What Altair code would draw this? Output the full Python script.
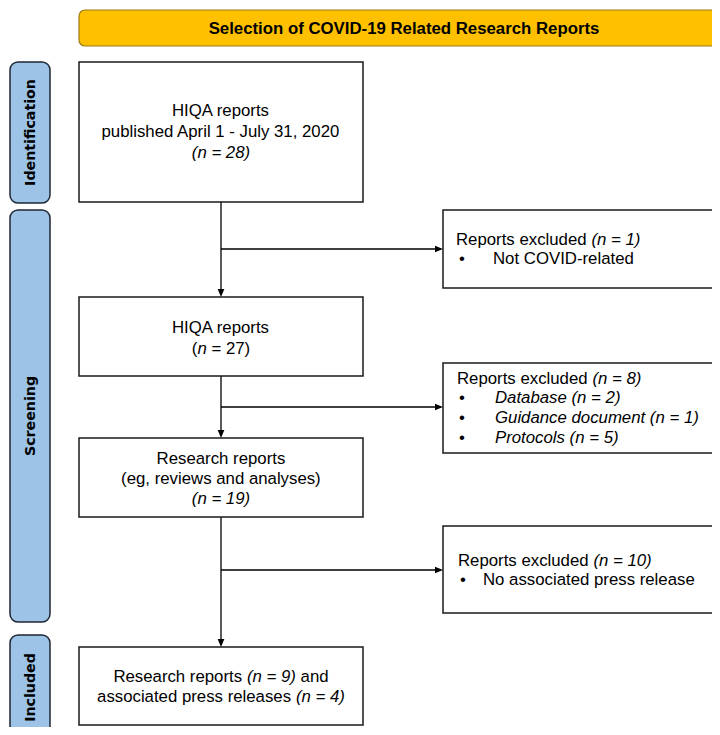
import altair as alt
import pandas as pd

# ---------------- canvas (pixel-like coordinate system) ----------------
W, H = 704, 719
X0, Y0 = 8, 8
FONT = "Liberation Sans"
LABEL_FONT = "DejaVu Sans"
FS = 16.8

# ---------------- content ----------------
title_text = ["Selection of COVID-19 Related Research Reports"]

stage_labels = ["Identification", "Screening", "Included"]
stage_top = [62, 210, 635]
stage_bottom = [203, 622, 740]

box_left = [79, 79, 79, 79, 443, 443, 443]
box_right = [363, 363, 363, 363, 735, 735, 735]
box_top = [62, 297, 438, 647, 210, 363, 526]
box_bottom = [202, 376, 517, 725, 288, 453, 613]

flow_x = [221, 221, 221]
flow_from = [202, 376, 517]
flow_to = [297, 438, 647]
branch_y = [249, 407, 570]
branch_to = [443, 443, 443]

# centred lines: (centre x, y, segments)
centred_lines = [
    (221, 111, [("HIQA reports", "normal")]),
    (221, 132, [("published April 1 - July 31, 2020", "normal")]),
    (221, 153, [("(n = 28)", "italic")]),
    (221, 328, [("HIQA reports", "normal")]),
    (221, 349, [("(", "normal"), ("n", "italic"), (" = 27)", "normal")]),
    (221, 459, [("Research reports", "normal")]),
    (221, 479, [("(eg, reviews and analyses)", "normal")]),
    (221, 499, [("(n = 19)", "italic")]),
    (221, 677, [("Research reports ", "normal"), ("(n = 9)", "italic"), (" and", "normal")]),
    (221, 697, [("associated press releases ", "normal"), ("(n = 4)", "italic")]),
]
# left aligned lines: (left x, y, segments)
left_lines = [
    (456, 240, [("Reports excluded ", "normal"), ("(n = 1)", "italic")]),
    (493, 259, [("Not COVID-related", "normal")]),
    (457, 379, [("Reports excluded ", "normal"), ("(n = 8)", "italic")]),
    (495, 398, [("Database (n = 2)", "italic")]),
    (495, 418, [("Guidance document (n = 1)", "italic")]),
    (495, 438, [("Protocols (n = 5)", "italic")]),
    (458, 561, [("Reports excluded ", "normal"), ("(n = 10)", "italic")]),
    (483, 580, [("No associated press release", "normal")]),
]
bullet_x = [459, 459, 459, 459, 460]
bullet_y = [259, 398, 418, 438, 580]

# Arial / Liberation Sans advance widths (per 1000 em) for layout of mixed-style lines
ADV = {" ": 278, "(": 333, ")": 333, ",": 278, "-": 333, ".": 278, "=": 584,
       "A": 667, "C": 722, "D": 722, "G": 778, "H": 722, "I": 278, "J": 500,
       "N": 722, "O": 778, "P": 667, "Q": 778, "R": 722, "V": 667}
for ch in "0123456789":
    ADV[ch] = 556
for ch, w in zip("abcdefghijklmnopqrstuvwxyz",
                 [556, 556, 500, 556, 556, 278, 556, 556, 222, 222, 500, 222, 833,
                  556, 556, 556, 556, 333, 500, 278, 556, 500, 722, 500, 500, 500]):
    ADV[ch] = w


def text_width(s):
    return sum(ADV.get(c, 556) for c in s) * FS / 1000.0


rows = []
for cx, y, segs in centred_lines:
    total = sum(text_width(t) for t, _ in segs)
    x = cx - total / 2
    for t, style in segs:
        lead = len(t) - len(t.lstrip(" "))
        rows.append({"x": x + text_width(" " * lead), "y": y, "t": t.strip(), "style": style})
        x += text_width(t)
for lx, y, segs in left_lines:
    x = lx
    for t, style in segs:
        lead = len(t) - len(t.lstrip(" "))
        rows.append({"x": x + text_width(" " * lead), "y": y, "t": t.strip(), "style": style})
        x += text_width(t)
for bx, by in zip(bullet_x, bullet_y):
    rows.append({"x": bx, "y": by, "t": "\u2022", "style": "normal"})
text_df = pd.DataFrame(rows)

# ---------------- scales ----------------
xs = alt.Scale(domain=[X0, X0 + W], nice=False, zero=False)
ys = alt.Scale(domain=[Y0, Y0 + H], nice=False, zero=False, reverse=True)


def X(f):
    return alt.X(f, type="quantitative", scale=xs, axis=None)


def Y(f):
    return alt.Y(f, type="quantitative", scale=ys, axis=None)


banner_df = pd.DataFrame({"x": [79], "x2": [740], "y": [10], "y2": [46]})
banner = alt.Chart(banner_df).mark_rect(
    fill="#FFC000", stroke="#9A7B12", strokeWidth=1.2, cornerRadius=6
).encode(x=X("x"), x2="x2", y=Y("y"), y2="y2")

title_df = pd.DataFrame({"x": [404], "y": [29], "t": title_text})
title = alt.Chart(title_df).mark_text(
    font=FONT, fontSize=FS, fontWeight="bold", color="#000000", align="center", baseline="middle"
).encode(x=X("x"), y=Y("y"), text="t:N")

stage_df = pd.DataFrame({
    "x": [10] * 3, "x2": [50] * 3, "y": stage_top, "y2": stage_bottom, "label": stage_labels,
    "cx": [30.5] * 3,
    "cy": [(a + b) / 2 for a, b in zip(stage_top, [203, 622, 740])],
})
stages = alt.Chart(stage_df).mark_rect(
    fill="#9DC3E6", stroke="#1E2733", strokeWidth=1.5, cornerRadius=8
).encode(x=X("x"), x2="x2", y=Y("y"), y2="y2")
stage_text = alt.Chart(stage_df).mark_text(
    font=LABEL_FONT, fontSize=14.2, fontWeight="bold", angle=270, color="#000000",
    align="center", baseline="middle"
).encode(x=X("cx"), y=Y("cy"), text="label:N")

box_df = pd.DataFrame({"x": box_left, "x2": box_right, "y": box_top, "y2": box_bottom})
boxes = alt.Chart(box_df).mark_rect(
    fill="#FFFFFF", stroke="#1A1A1A", strokeWidth=1.5
).encode(x=X("x"), x2="x2", y=Y("y"), y2="y2")

# connector lines
line_rows = []
for fx, a, b in zip(flow_x, flow_from, flow_to):
    line_rows.append({"x": fx, "x2": fx, "y": a, "y2": b - 6})
for fx, by, bt in zip(flow_x, branch_y, branch_to):
    line_rows.append({"x": fx, "x2": bt - 6, "y": by, "y2": by})
lines_df = pd.DataFrame(line_rows)
lines = alt.Chart(lines_df).mark_rule(color="#000000", strokeWidth=1.3).encode(
    x=X("x"), x2="x2", y=Y("y"), y2="y2")

down_df = pd.DataFrame({"x": flow_x, "y": flow_to})
right_df = pd.DataFrame({"x": branch_to, "y": branch_y})
arrow_down = alt.Chart(down_df).mark_point(
    shape="M-0.42,-1L0.42,-1L0,0Z", size=256, filled=True, color="#000000", opacity=1
).encode(x=X("x"), y=Y("y"))
arrow_right = alt.Chart(right_df).mark_point(
    shape="M-1,-0.42L-1,0.42L0,0Z", size=256, filled=True, color="#000000", opacity=1
).encode(x=X("x"), y=Y("y"))

normal_text = alt.Chart(text_df[text_df["style"] == "normal"]).mark_text(
    font=FONT, fontSize=FS, color="#000000", align="left", baseline="middle"
).encode(x=X("x"), y=Y("y"), text="t:N")
italic_text = alt.Chart(text_df[text_df["style"] == "italic"]).mark_text(
    font=FONT, fontSize=FS, fontStyle="italic", color="#000000", align="left", baseline="middle"
).encode(x=X("x"), y=Y("y"), text="t:N")

chart = alt.layer(
    banner, title, stages, stage_text, lines, boxes, arrow_down, arrow_right,
    normal_text, italic_text
).properties(
    width=W, height=H, padding=0, autosize=alt.AutoSizeParams(type="none")
).configure_view(stroke=None)

chart.save("out.html", embed_options={"renderer": "svg", "actions": False})
